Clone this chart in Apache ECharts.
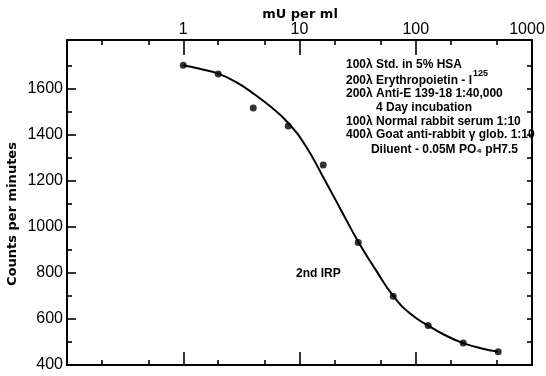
<!DOCTYPE html>
<html>
<head>
<meta charset="utf-8">
<script src="https://cdn.jsdelivr.net/npm/echarts@6/dist/echarts.min.js"></script>
<style>
html,body{margin:0;padding:0;background:#fff;}
#chart{width:546px;height:376px;}
</style>
</head>
<body>
<div id="chart"></div>
<script>
// ---- data ----
const doseX = [1, 2, 4, 8, 16, 32, 64, 128, 256, 512];
const counts = [1700, 1662, 1515, 1437, 1268, 931, 698, 571, 495, 458];
const curveX = [1, 1.41, 2, 2.83, 4, 5.66, 8, 11.3, 16, 22.6, 32, 45, 64, 90, 128, 181, 256, 362, 512];
const curveY = [1700, 1684, 1664, 1628, 1578, 1520, 1450, 1350, 1215, 1075, 935, 815, 700, 622, 571, 528, 495, 473, 458];
const xMajorTicks = [0.1, 1, 10, 100, 1000];
const xTickLabels = [1, 10, 100, 1000];
const xMinorTicks = [0.2, 0.5, 2, 5, 20, 50, 200, 500];
const yTickLabels = [400, 600, 800, 1000, 1200, 1400, 1600];
const yMinorTicks = [500, 700, 900, 1100, 1300, 1500, 1700];
const yRightTicks = [500, 600, 700, 800, 900, 1000, 1100, 1200, 1300, 1400, 1500, 1600, 1700];
const xTitle = 'mU per ml';
const yTitle = 'Counts per minutes';
const curveLabel = '2nd IRP';
const notes = [
  '100λ Std. in 5% HSA',
  '200λ Erythropoietin - I',
  '200λ Anti-E 139-18 1:40,000',
  '4 Day incubation',
  '100λ Normal rabbit serum 1:10',
  '400λ Goat anti-rabbit γ glob. 1:10',
  'Diluent - 0.05M PO₄ pH7.5'
];
const noteSup = '125';

// ---- chart ----
const X_MIN = 0.1, X_MAX = 1000, Y_MIN = 400, Y_MAX = 1810;
const BLACK = '#000';
const tickFont = '"Liberation Sans", Arial, sans-serif';
const noteFont = 'bold 12px "Liberation Sans", Arial, sans-serif';

function xAxisDef(position, ticks, len, extra) {
  return Object.assign({
    type: 'log', logBase: 10, min: X_MIN, max: X_MAX, position: position,
    axisLine: {show: false},
    axisTick: {show: true, inside: true, length: len, customValues: ticks, lineStyle: {color: BLACK, width: 1.6}},
    axisLabel: {show: false},
    splitLine: {show: false}, minorTick: {show: false}, minorSplitLine: {show: false}
  }, extra || {});
}
function yAxisDef(position, ticks, len, extra) {
  return Object.assign({
    type: 'value', min: Y_MIN, max: Y_MAX, position: position,
    axisLine: {show: false},
    axisTick: {show: true, inside: true, length: len, customValues: ticks, lineStyle: {color: BLACK, width: 1.6}},
    axisLabel: {show: false},
    splitLine: {show: false}
  }, extra || {});
}

const axisLineStyle = {show: true, onZero: false, lineStyle: {color: BLACK, width: 2}};

const xAxes = [
  xAxisDef('top', xMajorTicks, 15, {
    axisLine: axisLineStyle,
    axisLabel: {show: true, customValues: xTickLabels, margin: 2, color: BLACK,
      fontFamily: tickFont, fontSize: 16,
      formatter: v => (v === 1000 ? '{e|' + v + '}' : String(v)),
      rich: {e: {fontFamily: tickFont, fontSize: 16, color: BLACK, padding: [0, 10, 0, 0]}}}
  }),
  xAxisDef('top', xMinorTicks, 5),
  xAxisDef('bottom', xMajorTicks, 13, {axisLine: axisLineStyle}),
  xAxisDef('bottom', xMinorTicks, 5)
];
const yAxes = [
  yAxisDef('left', yTickLabels, 9, {
    axisLine: axisLineStyle,
    axisLabel: {show: true, customValues: yTickLabels, margin: 4, color: BLACK,
      fontFamily: tickFont, fontSize: 16, formatter: v => String(v)}
  }),
  yAxisDef('left', yMinorTicks, 5),
  yAxisDef('right', yRightTicks, 5, {axisLine: axisLineStyle})
];

// superscript position from measured text width
const ctx = document.createElement('canvas').getContext('2d');
ctx.font = noteFont;
const noteLeft = 346;
const line2W = ctx.measureText(notes[1]).width;

const noteY = [65, 81, 94, 108, 122, 135, 150];
const graphics = [];
notes.forEach((t, i) => {
  let x = noteLeft, align = 'left';
  if (i === 3) { x = 424; align = 'center'; }
  if (i === 6) { x = 518; align = 'right'; }
  graphics.push({type: 'text', x: x, y: noteY[i], silent: true,
    style: {text: t, font: noteFont, fill: BLACK, textAlign: align, align: align,
      textVerticalAlign: 'middle', verticalAlign: 'middle'}});
});
graphics.push({type: 'text', x: noteLeft + line2W + 1, y: 74, silent: true,
  style: {text: noteSup, font: 'bold 9px "Liberation Sans", Arial, sans-serif', fill: BLACK,
    textAlign: 'left', align: 'left', textVerticalAlign: 'middle', verticalAlign: 'middle'}});
graphics.push({type: 'text', x: 296, y: 274, silent: true,
  style: {text: curveLabel, font: noteFont, fill: BLACK, textAlign: 'left', align: 'left',
    textVerticalAlign: 'middle', verticalAlign: 'middle'}});
graphics.push({type: 'text', x: 13, y: 214, rotation: Math.PI / 2, silent: true,
  style: {text: yTitle, font: 'bold 13px "DejaVu Sans", sans-serif', fill: BLACK,
    textAlign: 'center', align: 'center', textVerticalAlign: 'middle', verticalAlign: 'middle'}});
graphics.push({type: 'text', x: 300, y: 15, silent: true,
  style: {text: xTitle, font: 'bold 13px "DejaVu Sans", sans-serif', fill: BLACK,
    textAlign: 'center', align: 'center', textVerticalAlign: 'middle', verticalAlign: 'middle'}});

const chart = echarts.init(document.getElementById('chart'), null, {renderer: 'canvas'});
chart.setOption({
  animation: false,
  backgroundColor: '#fff',
  grid: {left: 67, right: 14, top: 40, bottom: 11, containLabel: false, outerBoundsMode: 'none'},
  xAxis: xAxes,
  yAxis: yAxes,
  series: [
    {type: 'line', xAxisIndex: 0, yAxisIndex: 0, smooth: 0.5, symbol: 'none',
      lineStyle: {color: BLACK, width: 2},
      data: curveX.map((x, i) => [x, curveY[i]])},
    {type: 'scatter', xAxisIndex: 0, yAxisIndex: 0, symbol: 'circle', symbolSize: 7,
      itemStyle: {color: BLACK},
      data: doseX.map((x, i) => [x, counts[i]])}
  ],
  graphic: graphics
});
</script>
</body>
</html>
